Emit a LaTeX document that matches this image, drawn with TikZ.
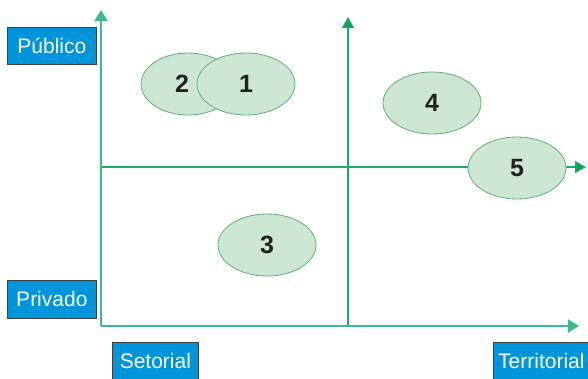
\documentclass[tikz,border=0pt]{standalone}
\usepackage{fontspec}
\setmainfont{Liberation Sans}
\usetikzlibrary{arrows.meta,shapes.geometric}
\definecolor{axisgreen}{HTML}{3DBB8E}
\definecolor{innergreen}{HTML}{1DAA66}
\definecolor{tipgreen}{HTML}{00A651}
\definecolor{blobfill}{HTML}{CCE6D3}
\definecolor{blobline}{HTML}{5FAE7C}
\definecolor{tagblue}{HTML}{0095DA}
\definecolor{numink}{HTML}{231F20}
\begin{document}
\begin{tikzpicture}[x=1pt,y=-1pt,
  outeraxis/.style={draw=axisgreen,line width=2.2pt,-{Triangle[length=11pt,width=13pt]}},
  inneraxis/.style={draw=innergreen,line width=1.5pt,-{Triangle[length=11pt,width=12pt,fill=tipgreen]}},
  blob/.style={ellipse,draw=blobline,line width=0.8pt,fill=blobfill,minimum width=98pt,minimum height=62pt,inner sep=0pt,
    font=\fontsize{25}{28}\selectfont\bfseries,text=numink},
  tag/.style={rectangle,draw=black!75,line width=0.7pt,fill=tagblue,text=white,inner sep=0pt,
    font=\fontsize{21}{24}\selectfont,anchor=north west}]
\useasboundingbox (0,0) rectangle (588,378);

% quadrant axes
\coordinate (o) at (101,326);
\coordinate (ytop) at (101,10);
\coordinate (xend) at (579,326);
\coordinate (mbase) at (348,326);
\coordinate (mtop) at (348,17);
\coordinate (hstart) at (101,167);
\coordinate (hend) at (586,167);

\draw[inneraxis] (mbase) -- (mtop);
\draw[inneraxis] (hstart) -- (hend);
\draw[outeraxis] (o) -- (ytop);
\draw[outeraxis] (o) -- (xend);

% positioned items
\node[blob,minimum width=94pt] (n2) at (188,84) {\hspace*{-12pt}2};
\node[blob] (n1) at (246,84) {1};
\node[blob] (n4) at (432,103) {4};
\node[blob] (n5) at (517,168) {5};
\node[blob] (n3) at (267,245) {3};

% axis tags
\node[tag,minimum width=89pt,minimum height=37pt] (pub) at (7,27) {Público};
\node[tag,minimum width=89pt,minimum height=38pt] (pri) at (7,280) {Privado};
\node[tag,minimum width=86pt,minimum height=38pt] (set) at (112,342) {Setorial};
\node[tag,minimum width=96pt,minimum height=38pt] (ter) at (493,342) {Territorial};
\end{tikzpicture}
\end{document}
